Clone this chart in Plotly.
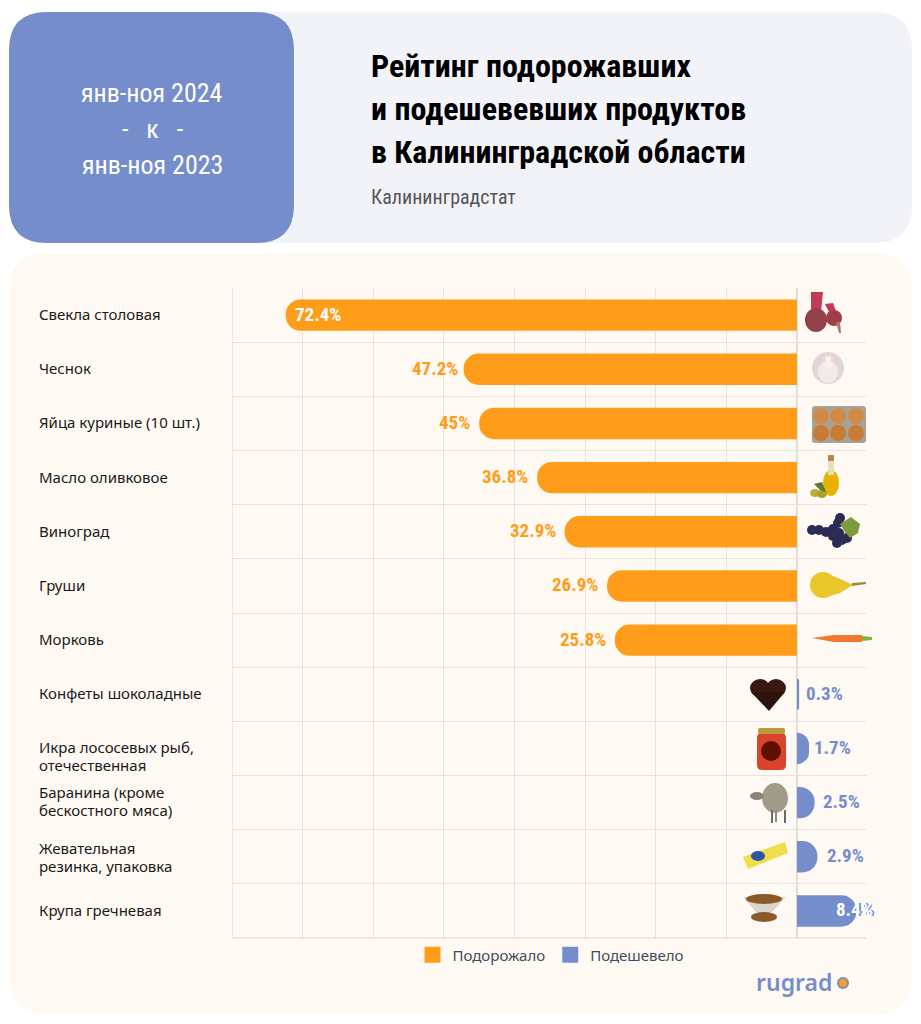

import plotly.graph_objects as go

# ---------- data ----------
categories = ["Свекла столовая", "Чеснок", "Яйца куриные (10 шт.)", "Масло оливковое", "Виноград", "Груши",
              "Морковь", "Конфеты шоколадные", "Икра лососевых рыб,<br>отечественная",
              "Баранина (кроме<br>бескостного мяса)", "Жевательная<br>резинка, упаковка", "Крупа гречневая"]
up_values = [72.4, 47.2, 45, 36.8, 32.9, 26.9, 25.8, None, None, None, None, None]
down_values = [None, None, None, None, None, None, None, -0.3, -1.7, -2.5, -2.9, -8.4]
up_labels = ["72.4%", "47.2%", "45%", "36.8%", "32.9%", "26.9%", "25.8%"]
down_labels = ["0.3%", "1.7%", "2.5%", "2.9%", "8.4%"]
series_names = ["Подорожало", "Подешевело"]
period_lines = ["янв-ноя 2024", "-&nbsp;&nbsp;&nbsp;к&nbsp;&nbsp;&nbsp;-", "янв-ноя 2023"]
title_lines = ["Рейтинг подорожавших", "и подешевевших продуктов", "в Калининградской области"]
source = "Калининградстат"

ORANGE = "#FF9C1A"
BLUE = "#758ECB"
# the page body keeps an 8px margin, so the figure is 8px smaller and all pixel helpers subtract it
W, H = 913, 1016
FONT = "Noto Sans"
NARROW = "Roboto Condensed, Roboto"

def px(x): return (x - 8) / W
def py(y): return 1 - (y - 8) / H

def rrect(x0, y0, x1, y1, r):
    X0, X1 = px(x0), px(x1)
    Y0, Y1 = py(y0), py(y1)
    rx, ry = r / W, r / H
    return (f"M{X0+rx},{Y0} L{X1-rx},{Y0} Q{X1},{Y0} {X1},{Y0-ry} L{X1},{Y1+ry} Q{X1},{Y1} {X1-rx},{Y1} "
            f"L{X0+rx},{Y1} Q{X0},{Y1} {X0},{Y1+ry} L{X0},{Y0-ry} Q{X0},{Y0} {X0+rx},{Y0} Z")

shapes = [
    dict(type="path", xref="paper", yref="paper", path=rrect(9, 12, 912, 243, 38), fillcolor="#F2F3F9", line_width=0, layer="below"),
    dict(type="path", xref="paper", yref="paper", path=rrect(9, 12, 294, 243, 38), fillcolor=BLUE, line_width=0, layer="below"),
    dict(type="path", xref="paper", yref="paper", path=rrect(9, 253, 912, 1014, 38), fillcolor="#FFF9F3", line_width=0, layer="below"),
    # logo dot
    dict(type="circle", xref="paper", yref="paper", x0=px(837), x1=px(849), y0=py(989), y1=py(977), fillcolor=BLUE, line_width=0),
    dict(type="circle", xref="paper", yref="paper", x0=px(839), x1=px(847), y0=py(987), y1=py(979), fillcolor=ORANGE, line_width=0),
]

def ell(cx, cy, rx, ry, color):
    shapes.append(dict(type="circle", xref="paper", yref="paper", x0=px(cx-rx), x1=px(cx+rx),
                       y0=py(cy+ry), y1=py(cy-ry), fillcolor=color, line_width=0))
def box(x0, y0, x1, y1, color, r=2):
    shapes.append(dict(type="path", xref="paper", yref="paper", path=rrect(x0, y0, x1, y1, r), fillcolor=color, line_width=0))
def poly(points, color):
    path = "M" + " L".join(f"{px(a)},{py(b)}" for a, b in points) + " Z"
    shapes.append(dict(type="path", xref="paper", yref="paper", path=path, fillcolor=color, line_width=0))

# simple stand-ins for the product pictures
# beet
poly([(811,312),(811,292),(823,292),(821,312)], "#C23A55"); poly([(829,312),(825,304),(833,303),(836,311)], "#C23A55")
ell(816, 320, 11, 12, "#93404A"); ell(834, 318, 8, 8, "#9E3F48"); poly([(836,322),(840,322),(841,333),(839,333)], "#B0707A")
# garlic
ell(828, 368, 16, 16, "#E3D5D8"); ell(828, 372, 10, 11, "#F1E9EA"); poly([(826,356),(831,356),(832,368),(825,368)], "#F7F2E8")
# eggs
box(812, 406, 866, 443, "#A8A196", 3)
for cx in (820, 837, 855):
    ell(cx + 1, 416, 8, 8, "#D08A48"); ell(cx + 1, 433, 8, 8, "#C97A35")
# oil
ell(831, 483, 8, 13, "#E6B400"); box(828, 460, 834, 475, "#E9DFB8", 1); box(828, 455, 834, 461, "#B9834A", 1)
ell(815, 493, 5, 4, "#B8B030"); ell(822, 494, 5, 4, "#A8A22A"); poly([(814,484),(822,482),(826,492),(820,490)], "#5C7A30")
# grapes
for cx, cy in ((812,530),(819,530),(826,532),(833,529),(838,523),(840,518),(833,536),(839,533),(837,543),(842,540),(847,538)):
    ell(cx, cy, 5, 5, "#2B2C55")
poly([(840,524),(851,517),(860,524),(858,533),(850,538),(845,532)], "#7C9A3E")
# pear
ell(823, 585, 13, 13, "#E8C62C"); poly([(823,572),(838,578),(853,585),(840,593),(823,598)], "#E8C62C"); poly([(852,583),(866,582),(866,584),(852,586)], "#9A8A40")
# carrot
poly([(812,638),(834,635),(862,635),(862,642),(834,642)], "#F0772B"); poly([(862,636),(872,637),(872,640),(862,641)], "#7FB23F")
# chocolate
ell(760, 688, 10, 9, "#3A1810"); ell(776, 688, 10, 9, "#3A1810"); poly([(751,692),(785,692),(769,711)], "#2E120C")
# jar
box(757, 733, 786, 770, "#D9452C", 5); box(758, 728, 785, 734, "#B89A38", 2); ell(771, 751, 10, 10, "#5E1000")
# sheep
ell(775, 798, 13, 15, "#A39B8A"); ell(757, 796, 7, 4, "#8A8478")
box(771, 810, 773, 823, "#6B6B6B", 0); box(784, 810, 786, 823, "#6B6B6B", 0); box(775, 810, 777, 822, "#8B8B8B", 0)
# gum
poly([(743,857),(785,842),(788,853),(748,869)], "#EFDD4A"); ell(758, 856, 7, 5, "#2F55A8")
# buckwheat
poly([(743,897),(786,897),(772,912),(756,912)], "#D9D6D0"); ell(764, 899, 18, 5, "#8A5A2B"); ell(764, 917, 13, 5, "#8A5A2B")

annotations = []
def note(text, x, y, size, color, family=FONT, anchor="left", weight=400, xref="paper", yref="paper", xshift=0, yshift=0):
    annotations.append(dict(text=text, x=x, y=y, xref=xref, yref=yref, xanchor=anchor, yanchor="middle", showarrow=False,
                            align="left" if anchor == "left" else "center", xshift=xshift, yshift=yshift,
                            font=dict(family=family, size=size, color=color, weight=weight)))

for line, yy in zip(period_lines, (93, 129, 165)):
    note(line, px(152), py(yy), 26, "#FFFFFF", family=NARROW, anchor="center")
for line, yy in zip(title_lines, (66, 109, 152)):
    note(line, px(369), py(yy), 32, "#000000", family=NARROW, weight=700)
note(source, px(369), py(197), 20, "#555555", family=NARROW)
note("rugrad", px(754), py(982), 23, BLUE, family=FONT, weight=600)

two_line_shifts = [(1, -17), (11, -7), (9, -9)]
k = 0
for c in categories:
    parts = c.split("<br>")
    if len(parts) == 1:
        note(c, px(37), c, 15, "#1A1A1A", yref="y", yshift=1)
    else:
        note(parts[0], px(37), c, 15, "#1A1A1A", yref="y", yshift=two_line_shifts[k][0])
        note(parts[1], px(37), c, 15, "#1A1A1A", yref="y", yshift=two_line_shifts[k][1])
        k += 1

VAL = 19
for i, (v, t) in enumerate(zip(up_values, up_labels)):
    if i == 0:
        note(t, v, categories[i], VAL, "#FFFFFF", family=NARROW, weight=700, xref="x", yref="y", xshift=7, yshift=1)
    else:
        note(t, v, categories[i], VAL, ORANGE, family=NARROW, weight=700, anchor="right", xref="x", yref="y",
             xshift=-4 if i == 1 else -7, yshift=1)
blue_shifts = [5, 3, 6, 8]
for i, (v, t) in enumerate(zip(down_values[7:], down_labels)):
    cat = categories[7 + i]
    if t == "8.4%":
        note(t, v, cat, VAL, BLUE, family=NARROW, weight=700, anchor="center", xref="x", yref="y", xshift=0, yshift=1)
        note(t, v, cat, VAL, "#FFFFFF", family=NARROW, weight=700, anchor="center", xref="x", yref="y", xshift=-2, yshift=1)
    else:
        note(t, v, cat, VAL, BLUE, family=NARROW, weight=700, xref="x", yref="y", xshift=blue_shifts[i], yshift=1)

fig = go.Figure()
fig.add_bar(y=categories, x=up_values, orientation="h", marker=dict(color=ORANGE, line_width=0), showlegend=False, name=series_names[0])
fig.add_bar(y=categories, x=down_values, orientation="h", marker=dict(color=BLUE, line_width=0), showlegend=False, name=series_names[1])
for name, col in zip(series_names, (ORANGE, BLUE)):
    fig.add_scatter(x=[None], y=[None], mode="markers", name=name,
                    marker=dict(symbol="square", size=14, color=col, line=dict(color=col, width=2)))

GRID = "#E7E2DC"
X_LEFT, X_RIGHT = 80, -9.77
fig.update_layout(
    width=W, height=H, margin=dict(l=0, r=0, t=0, b=0), autosize=False,
    paper_bgcolor="#FFFFFF", plot_bgcolor="rgba(0,0,0,0)",
    barmode="overlay", bargap=0.42, barcornerradius=15,
    font=dict(family=FONT, size=14),
    shapes=shapes, annotations=annotations,
    legend=dict(orientation="h", x=px(551), xanchor="center", y=py(955), yanchor="middle",
                font=dict(family=FONT, size=15, color="#3F4C5C"), bgcolor="rgba(0,0,0,0)",
                itemclick=False, itemdoubleclick=False),
    xaxis=dict(domain=[px(232), px(866)], range=[X_LEFT, X_RIGHT], showticklabels=False, ticks="",
               dtick=10, tick0=0, gridcolor=GRID, gridwidth=1, zeroline=False, showline=False),
    yaxis=dict(domain=[py(938), py(288)], autorange="reversed", type="category", categoryorder="array", categoryarray=categories,
               showticklabels=False, ticks="", tickson="boundaries", gridcolor=GRID, gridwidth=1, showline=False, zeroline=False),
)
fig.add_shape(type="line", xref="x", yref="paper", x0=X_LEFT, x1=X_RIGHT, y0=py(938), y1=py(938), line=dict(color="#DDD6CE", width=1))
fig.add_shape(type="line", xref="x", yref="paper", x0=X_LEFT, x1=X_LEFT, y0=py(938), y1=py(288), line=dict(color="#DDD6CE", width=1))
fig.add_shape(type="line", xref="x", yref="paper", x0=0, x1=0, y0=py(938), y1=py(288), line=dict(color="#DED8D1", width=2), layer="below")
fig.write_html("out.html")
